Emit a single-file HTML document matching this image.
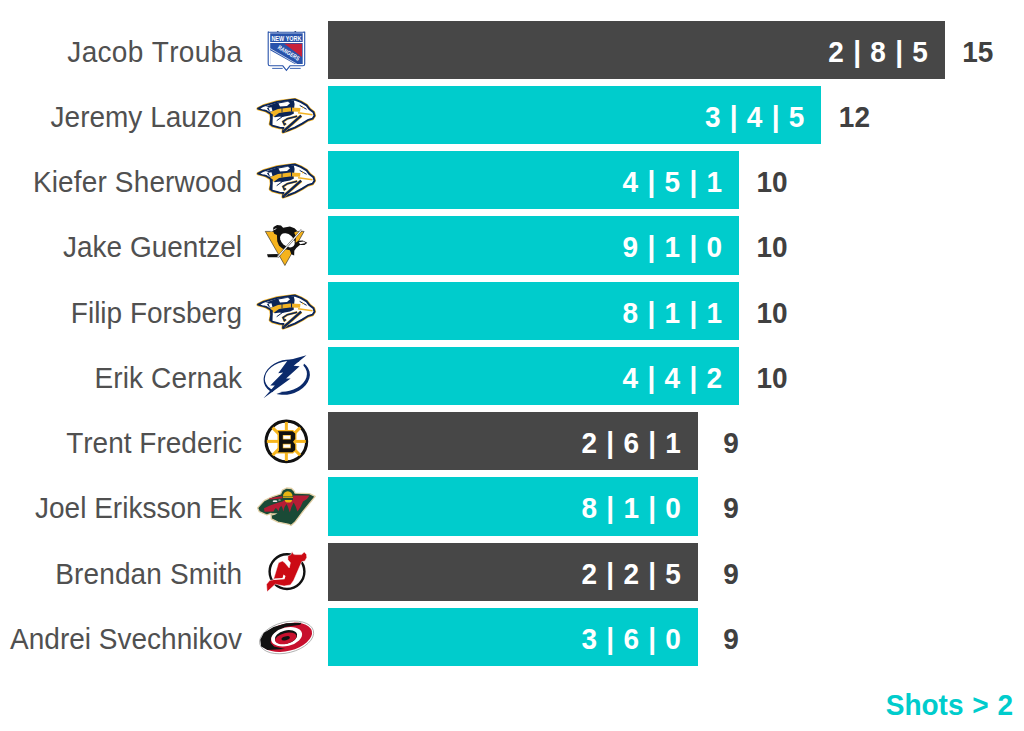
<!DOCTYPE html>
<html><head><meta charset="utf-8"><style>
html,body{margin:0;padding:0;background:#fff;width:1024px;height:731px;overflow:hidden;position:relative}
body{font-family:"Liberation Sans",sans-serif;font-kerning:none}
.row{position:absolute;left:0;width:1024px;height:58.25px}
.name{position:absolute;right:782px;top:0;height:58.25px;line-height:58.25px;font-size:28px;color:#505050;white-space:nowrap;transform:translateY(2px) scaleY(1.06)}
.lg{position:absolute;overflow:visible}
.bar{position:absolute;left:327.6px;top:0;height:58.25px}
.bar.d{background:#474747}
.bar.t{background:#00cccc}
.lab{position:absolute;right:17px;word-spacing:1.5px;top:0;line-height:58.25px;font-size:28px;font-weight:bold;color:#fff;white-space:nowrap;transform:translateY(2px) scaleY(1.06)}
.val{position:absolute;top:0;width:60px;text-align:center;line-height:58.25px;font-size:28px;font-weight:bold;color:#404040;white-space:nowrap;transform:translateY(2px) scaleY(1.06)}
.foot{position:absolute;right:11px;top:688.5px;word-spacing:1px;transform:scaleY(1.06);font-size:28px;font-weight:bold;color:#00cccc;line-height:32px;white-space:nowrap}
</style></head><body>
<div class="row" style="top:20.50px"><div class="name" style="letter-spacing:0.31px;margin-right:-0.31px">Jacob Trouba</div><div class="bar d" style="width:617.25px"><span class="lab">2 | 8 | 5</span></div><div class="val" style="left:947.85px">15</div></div><div class="row" style="top:85.75px"><div class="name" style="letter-spacing:0px;margin-right:0px">Jeremy Lauzon</div><div class="bar t" style="width:493.80px"><span class="lab">3 | 4 | 5</span></div><div class="val" style="left:824.40px">12</div></div><div class="row" style="top:151.00px"><div class="name" style="letter-spacing:0.15px;margin-right:-0.15px">Kiefer Sherwood</div><div class="bar t" style="width:411.50px"><span class="lab">4 | 5 | 1</span></div><div class="val" style="left:742.10px">10</div></div><div class="row" style="top:216.25px"><div class="name" style="letter-spacing:0px;margin-right:0px">Jake Guentzel</div><div class="bar t" style="width:411.50px"><span class="lab">9 | 1 | 0</span></div><div class="val" style="left:742.10px">10</div></div><div class="row" style="top:281.50px"><div class="name" style="letter-spacing:0px;margin-right:0px">Filip Forsberg</div><div class="bar t" style="width:411.50px"><span class="lab">8 | 1 | 1</span></div><div class="val" style="left:742.10px">10</div></div><div class="row" style="top:346.75px"><div class="name" style="letter-spacing:0.12px;margin-right:-0.12px">Erik Cernak</div><div class="bar t" style="width:411.50px"><span class="lab">4 | 4 | 2</span></div><div class="val" style="left:742.10px">10</div></div><div class="row" style="top:412.00px"><div class="name" style="letter-spacing:0px;margin-right:0px">Trent Frederic</div><div class="bar d" style="width:370.35px"><span class="lab">2 | 6 | 1</span></div><div class="val" style="left:700.95px">9</div></div><div class="row" style="top:477.25px"><div class="name" style="letter-spacing:0px;margin-right:0px">Joel Eriksson Ek</div><div class="bar t" style="width:370.35px"><span class="lab">8 | 1 | 0</span></div><div class="val" style="left:700.95px">9</div></div><div class="row" style="top:542.50px"><div class="name" style="letter-spacing:0.125px;margin-right:-0.125px">Brendan Smith</div><div class="bar d" style="width:370.35px"><span class="lab">2 | 2 | 5</span></div><div class="val" style="left:700.95px">9</div></div><div class="row" style="top:607.75px"><div class="name" style="letter-spacing:0px;margin-right:0px">Andrei Svechnikov</div><div class="bar t" style="width:370.35px"><span class="lab">3 | 6 | 0</span></div><div class="val" style="left:700.95px">9</div></div>
<svg class="lg" style="left:260px;top:26px" width="54" height="48" viewBox="0 0 54 48">
<path d="M8.2,6.2 H44.7 V38 Q44.7,39.8 43,39.8 H30 L26.4,44.3 L22.8,39.8 H10 Q8.2,39.8 8.2,38 Z" fill="#fff" stroke="#2853ab" stroke-width="1.1"/>
<rect x="10.2" y="7.3" width="32.5" height="8.7" fill="#2853ab"/>
<text x="26.4" y="14.8" font-family="Liberation Sans" font-weight="bold" font-size="7.2" fill="#fff" text-anchor="middle" textLength="30" lengthAdjust="spacingAndGlyphs">NEW YORK</text>
<path d="M10.2,17 H42.7 V38 H10.2 Z" fill="#2853ab"/>
<path d="M24.3,17.7 L42,17.7 L42,30.9 Z" fill="#c8213a"/>
<path d="M10.2,24.3 L10.2,38 L34.8,38 Z" fill="#fff"/>
<path d="M10.2,22.6 L37.6,38.5" stroke="#fff" stroke-width="0.7"/>
<text x="0" y="0" transform="translate(27.6,28.6) rotate(31)" font-family="Liberation Sans" font-weight="bold" font-size="6" fill="#fff" text-anchor="middle" textLength="24" lengthAdjust="spacingAndGlyphs">RANGERS</text>
<path d="M12.2,42.4 L22.7,42.4 M29.9,42.4 L40.7,42.4" stroke="#2853ab" stroke-width="0.9"/>
<path d="M8,5 l1,1.2 M44.5,5 l-1,1.2 M17,5 l0.8,1 l0.8,-1 M34.5,5 l0.8,1 l0.8,-1" stroke="#2853ab" stroke-width="0.5"/>
</svg>
<svg class="lg" style="left:254px;top:94px" width="66" height="46" viewBox="0 0 66 46">
<polygon points="4,14.6 9.4,11.9 23.2,7.9 36.5,6 40.8,5.5 46.7,7.9 52.6,11.4 55.6,15.3 59.5,18.3 60.5,21.7 58.5,24.7 53.6,26.2 48.2,29.6 40.8,33.6 33.4,36.5 29,38 29.6,34 25.6,33.6 18.3,31.6 16.3,30.1 17.3,24.7 16.8,19.8 11.9,16.8" fill="none" stroke="#f2b324" stroke-width="3.2" stroke-linejoin="round"/>
<polygon points="4,14.6 9.4,11.9 23.2,7.9 36.5,6 40.8,5.5 46.7,7.9 52.6,11.4 55.6,15.3 59.5,18.3 60.5,21.7 58.5,24.7 53.6,26.2 48.2,29.6 40.8,33.6 33.4,36.5 29,38 29.6,34 25.6,33.6 18.3,31.6 16.3,30.1 17.3,24.7 16.8,19.8 11.9,16.8" fill="#fff" stroke="#0b2456" stroke-width="1.9" stroke-linejoin="round"/>
<polygon points="12,12.6 23.2,8.4 39.8,6.6 40.6,9.9 39.6,18.8 35.9,20.3 27.6,22.2 20.7,23.2 18.3,20.3 14.3,16.3" fill="#0b2456"/>
<polygon points="6.5,14.6 13,12.6 15,13.2 9,15.6" fill="#fff"/>
<polygon points="24.5,9.6 34,7.8 36,9.2 33,12 26,12.6" fill="#fff"/>
<polygon points="14.6,13.8 17.5,13.2 18.6,17.6 16,17.4" fill="#fff"/>
<polygon points="16.5,18 24,15 36,13.4 46.5,14 46,17.8 36,17.5 25,19 19.8,22.8 17.5,21.8" fill="#f2b324"/>
<polyline points="28,14 28,18.5" stroke="#0b2456" stroke-width="0.9"/><polyline points="37.5,13.2 37.5,17.6" stroke="#0b2456" stroke-width="1.1"/>
<polygon points="26,19.3 39,17.8 40,19.5 36,21.5 28,23 25,22" fill="#0b2456"/>
<polygon points="16.5,19 18.8,20.5 18.5,30.5 16.5,30" fill="#0b2456"/>
<polyline points="44,18.8 58.5,20.8" stroke="#f2b324" stroke-width="1.6"/>
<polyline points="45.7,11.4 52.6,15.3" stroke="#0b2456" stroke-width="1"/>
<circle cx="48.7" cy="13.6" r="0.8" fill="#f2b324"/>
<polyline points="43.2,22.2 33.4,24.7 29,27.6 30.4,30.6 32,29.5" fill="none" stroke="#f2b324" stroke-width="2.3"/><polyline points="43.2,22.2 33.4,24.7 29,27.6 30.4,30.6 32,29.5" fill="none" stroke="#0b2456" stroke-width="1.5"/>
<polyline points="30.2,36.6 47.2,21.7" stroke="#f2b324" stroke-width="3.2"/><polyline points="30.2,36.6 47.2,21.7" stroke="#0b2456" stroke-width="2.2"/>
<polyline points="22.7,26.7 31.6,20.3" stroke="#0b2456" stroke-width="1"/>
</svg>
<svg class="lg" style="left:254px;top:159.25px" width="66" height="46" viewBox="0 0 66 46">
<polygon points="4,14.6 9.4,11.9 23.2,7.9 36.5,6 40.8,5.5 46.7,7.9 52.6,11.4 55.6,15.3 59.5,18.3 60.5,21.7 58.5,24.7 53.6,26.2 48.2,29.6 40.8,33.6 33.4,36.5 29,38 29.6,34 25.6,33.6 18.3,31.6 16.3,30.1 17.3,24.7 16.8,19.8 11.9,16.8" fill="none" stroke="#f2b324" stroke-width="3.2" stroke-linejoin="round"/>
<polygon points="4,14.6 9.4,11.9 23.2,7.9 36.5,6 40.8,5.5 46.7,7.9 52.6,11.4 55.6,15.3 59.5,18.3 60.5,21.7 58.5,24.7 53.6,26.2 48.2,29.6 40.8,33.6 33.4,36.5 29,38 29.6,34 25.6,33.6 18.3,31.6 16.3,30.1 17.3,24.7 16.8,19.8 11.9,16.8" fill="#fff" stroke="#0b2456" stroke-width="1.9" stroke-linejoin="round"/>
<polygon points="12,12.6 23.2,8.4 39.8,6.6 40.6,9.9 39.6,18.8 35.9,20.3 27.6,22.2 20.7,23.2 18.3,20.3 14.3,16.3" fill="#0b2456"/>
<polygon points="6.5,14.6 13,12.6 15,13.2 9,15.6" fill="#fff"/>
<polygon points="24.5,9.6 34,7.8 36,9.2 33,12 26,12.6" fill="#fff"/>
<polygon points="14.6,13.8 17.5,13.2 18.6,17.6 16,17.4" fill="#fff"/>
<polygon points="16.5,18 24,15 36,13.4 46.5,14 46,17.8 36,17.5 25,19 19.8,22.8 17.5,21.8" fill="#f2b324"/>
<polyline points="28,14 28,18.5" stroke="#0b2456" stroke-width="0.9"/><polyline points="37.5,13.2 37.5,17.6" stroke="#0b2456" stroke-width="1.1"/>
<polygon points="26,19.3 39,17.8 40,19.5 36,21.5 28,23 25,22" fill="#0b2456"/>
<polygon points="16.5,19 18.8,20.5 18.5,30.5 16.5,30" fill="#0b2456"/>
<polyline points="44,18.8 58.5,20.8" stroke="#f2b324" stroke-width="1.6"/>
<polyline points="45.7,11.4 52.6,15.3" stroke="#0b2456" stroke-width="1"/>
<circle cx="48.7" cy="13.6" r="0.8" fill="#f2b324"/>
<polyline points="43.2,22.2 33.4,24.7 29,27.6 30.4,30.6 32,29.5" fill="none" stroke="#f2b324" stroke-width="2.3"/><polyline points="43.2,22.2 33.4,24.7 29,27.6 30.4,30.6 32,29.5" fill="none" stroke="#0b2456" stroke-width="1.5"/>
<polyline points="30.2,36.6 47.2,21.7" stroke="#f2b324" stroke-width="3.2"/><polyline points="30.2,36.6 47.2,21.7" stroke="#0b2456" stroke-width="2.2"/>
<polyline points="22.7,26.7 31.6,20.3" stroke="#0b2456" stroke-width="1"/>
</svg>
<svg class="lg" style="left:260px;top:220px" width="56" height="52" viewBox="0 0 56 52">
<path d="M5.3,11.4 L44.1,11.4 L24.9,45.5 Z" fill="#f5b31d" stroke="#222" stroke-width="0.6"/>
<polygon points="12.81,10.32 13.52,7.12 17.08,5.12 21.00,5.55 23.13,7.69 29.89,6.55 34.52,8.19 37.01,10.68 34.16,12.67 35.94,16.37 35.59,22.78 38.43,20.64 42.70,20.50 47.33,22.63 44.48,25.05 39.86,25.05 36.30,27.90 34.31,30.75 34.16,35.59 31.32,34.31 29.89,30.25 22.78,28.83 19.07,25.77 17.22,21.35 16.94,15.09 14.23,13.67" fill="#111"/>
<ellipse cx="27.40" cy="20.28" rx="8.40" ry="5.84" transform="rotate(42 27.40 20.28)" fill="#fff"/>
<polygon points="38.79,22.21 43.56,21.49 45.69,22.92 40.21,24.20" fill="#fff"/>
<polygon points="6.98,34.31 17.79,34.02 17.79,37.30 7.97,37.15" fill="#111"/>
<path d="M17.79,37.01 L41.64,9.96" stroke="#333" stroke-width="1.9"/>
<path d="M17.79,37.01 L41.64,9.96" stroke="#fff" stroke-width="1.1"/>
<path d="M10.68,11.39 L16.37,8.54" stroke="#fff" stroke-width="0.8"/>
</svg>
<svg class="lg" style="left:254px;top:289.75px" width="66" height="46" viewBox="0 0 66 46">
<polygon points="4,14.6 9.4,11.9 23.2,7.9 36.5,6 40.8,5.5 46.7,7.9 52.6,11.4 55.6,15.3 59.5,18.3 60.5,21.7 58.5,24.7 53.6,26.2 48.2,29.6 40.8,33.6 33.4,36.5 29,38 29.6,34 25.6,33.6 18.3,31.6 16.3,30.1 17.3,24.7 16.8,19.8 11.9,16.8" fill="none" stroke="#f2b324" stroke-width="3.2" stroke-linejoin="round"/>
<polygon points="4,14.6 9.4,11.9 23.2,7.9 36.5,6 40.8,5.5 46.7,7.9 52.6,11.4 55.6,15.3 59.5,18.3 60.5,21.7 58.5,24.7 53.6,26.2 48.2,29.6 40.8,33.6 33.4,36.5 29,38 29.6,34 25.6,33.6 18.3,31.6 16.3,30.1 17.3,24.7 16.8,19.8 11.9,16.8" fill="#fff" stroke="#0b2456" stroke-width="1.9" stroke-linejoin="round"/>
<polygon points="12,12.6 23.2,8.4 39.8,6.6 40.6,9.9 39.6,18.8 35.9,20.3 27.6,22.2 20.7,23.2 18.3,20.3 14.3,16.3" fill="#0b2456"/>
<polygon points="6.5,14.6 13,12.6 15,13.2 9,15.6" fill="#fff"/>
<polygon points="24.5,9.6 34,7.8 36,9.2 33,12 26,12.6" fill="#fff"/>
<polygon points="14.6,13.8 17.5,13.2 18.6,17.6 16,17.4" fill="#fff"/>
<polygon points="16.5,18 24,15 36,13.4 46.5,14 46,17.8 36,17.5 25,19 19.8,22.8 17.5,21.8" fill="#f2b324"/>
<polyline points="28,14 28,18.5" stroke="#0b2456" stroke-width="0.9"/><polyline points="37.5,13.2 37.5,17.6" stroke="#0b2456" stroke-width="1.1"/>
<polygon points="26,19.3 39,17.8 40,19.5 36,21.5 28,23 25,22" fill="#0b2456"/>
<polygon points="16.5,19 18.8,20.5 18.5,30.5 16.5,30" fill="#0b2456"/>
<polyline points="44,18.8 58.5,20.8" stroke="#f2b324" stroke-width="1.6"/>
<polyline points="45.7,11.4 52.6,15.3" stroke="#0b2456" stroke-width="1"/>
<circle cx="48.7" cy="13.6" r="0.8" fill="#f2b324"/>
<polyline points="43.2,22.2 33.4,24.7 29,27.6 30.4,30.6 32,29.5" fill="none" stroke="#f2b324" stroke-width="2.3"/><polyline points="43.2,22.2 33.4,24.7 29,27.6 30.4,30.6 32,29.5" fill="none" stroke="#0b2456" stroke-width="1.5"/>
<polyline points="30.2,36.6 47.2,21.7" stroke="#f2b324" stroke-width="3.2"/><polyline points="30.2,36.6 47.2,21.7" stroke="#0b2456" stroke-width="2.2"/>
<polyline points="22.7,26.7 31.6,20.3" stroke="#0b2456" stroke-width="1"/>
</svg>
<svg class="lg" style="left:256px;top:350px" width="60" height="55" viewBox="0 0 60 55">
<ellipse cx="30.7" cy="27.1" rx="23.5" ry="17.3" transform="rotate(-14 30.7 27.1)" fill="#0b2a6b"/>
<ellipse cx="29.9" cy="26.4" rx="21.4" ry="14.9" transform="rotate(-14 29.9 26.4)" fill="#fff"/>
<path d="M34,17 L50,7 L46,20 Z" fill="#fff"/>
<path d="M12,47 L20,38 L26,42 Z" fill="#fff"/>
<polygon points="50.45,5.27 37.65,15.81 43.67,16.19 30.12,28.61 34.64,28.61 7.53,48.19 18.83,35.39 14.31,35.39 27.11,22.59 22.21,23.34 31.63,10.54" fill="#0b2a6b"/>
</svg>
<svg class="lg" style="left:258px;top:415px" width="58" height="55" viewBox="0 0 58 55">
<circle cx="28.35" cy="26.4" r="20.3" fill="#fff" stroke="#111" stroke-width="3.1"/>
<line x1="34.35" y1="26.40" x2="47.85" y2="26.40" stroke="#f7b61e" stroke-width="3"/><line x1="32.59" y1="30.64" x2="42.14" y2="40.19" stroke="#f7b61e" stroke-width="3"/><line x1="28.35" y1="32.40" x2="28.35" y2="45.90" stroke="#f7b61e" stroke-width="3"/><line x1="24.11" y1="30.64" x2="14.56" y2="40.19" stroke="#f7b61e" stroke-width="3"/><line x1="22.35" y1="26.40" x2="8.85" y2="26.40" stroke="#f7b61e" stroke-width="3"/><line x1="24.11" y1="22.16" x2="14.56" y2="12.61" stroke="#f7b61e" stroke-width="3"/><line x1="28.35" y1="20.40" x2="28.35" y2="6.90" stroke="#f7b61e" stroke-width="3"/><line x1="32.59" y1="22.16" x2="42.14" y2="12.61" stroke="#f7b61e" stroke-width="3"/>
<path d="M18,15 L35,15 L38.5,18 L38.5,24.5 L36.5,26.7 L38.5,29 L38.5,35.5 L35,38.5 L18,38.5 L19.5,36.5 L19.5,17 Z" fill="#f7b61e"/>
<path d="M19.8,16.3 L34.5,16.3 L37.2,18.6 L37.2,24 L35,26.7 L37.2,29.4 L37.2,35 L34.5,37.2 L19.8,37.2 L21,35.5 L21,18 Z" fill="#111"/>
<rect x="24.8" y="20" width="8" height="4.5" fill="#f7b61e"/>
<rect x="25.4" y="20.7" width="6.8" height="3.1" fill="#fff"/>
<rect x="24.8" y="28.8" width="8" height="4.5" fill="#f7b61e"/>
<rect x="25.4" y="29.5" width="6.8" height="3.1" fill="#fff"/>
</svg>
<svg class="lg" style="left:254px;top:482px" width="66" height="48" viewBox="0 0 66 48">
<polygon points="3.6,25.9 10.2,18.6 18.4,14.7 26.6,12 28.3,8.2 32.6,6 37.6,6.5 40.3,9.3 41,11.1 55.5,11.6 61.2,14.4 49,29.4 40.8,40.3 37,43.5 34.8,42.3 23.9,40.1 17.3,36.8 17,31.4 12.9,33 5.3,29.7" fill="#1a4a36" stroke="#e3d0a6" stroke-width="1.3" stroke-linejoin="round"/>
<polygon points="10,26.2 16,23.5 23,21 28.5,19.5 30.5,17.9 39,17.9 39.1,13.6 55.5,13.6 53,17 49,19.5 46.5,25 43.5,29.4 41.5,24 39.7,20.6 37.5,25 35.8,30.5 34,25 32.6,22 30.5,25 29.3,29.4 28.5,26 27.2,23.7 25.5,26 24.5,29.2 23,27 21.7,25.9 20.5,27.5 19.5,29.5 10.5,29.8" fill="#b51d35"/>
<polygon points="15,16.5 22,15 28.3,14.2 28.5,16.2 22,17 15.5,17.6" fill="#b51d35"/>
<path d="M28.9,14.6 A4.85,5.3 0 0 1 38.6,14.6 Z" fill="#e9b412"/>
<rect x="29" y="15.2" width="10" height="0.8" fill="#e9b412"/>
<path d="M30.9,17.9 L38,17.9 A3.55,2.7 0 0 1 30.9,17.9 Z" fill="#e9b412"/>
<ellipse cx="21" cy="19.2" rx="2.4" ry="0.9" fill="#e8e8e8"/>
<ellipse cx="25.5" cy="18" rx="1.3" ry="0.6" fill="#ccc"/>
<polygon points="16.8,31.2 23.5,31.2 21,32.8 18,33.6" fill="#e3d0a6"/>
</svg>
<svg class="lg" style="left:258px;top:545px" width="58" height="55" viewBox="0 0 58 55">
<circle cx="29" cy="26.6" r="17.4" fill="#fff" stroke="#111" stroke-width="2.4"/>
<polygon points="9.1,46.8 8.5,39.2 11.7,35.5 15.4,34.8 20.5,17.8 24.3,16 26.8,17.8 31.2,22.9 32.4,17.8 29.9,14.7 29.9,10.9 33,9.5 34,6.5 35.8,9.6 43.6,9.6 46.3,7 48.5,9.5 48.8,12.5 46.9,16 43.8,16.6 35.6,35.5 32.4,39.9 26.1,41.1 20.5,39.9 17.3,39.2" fill="#cc0a14" stroke="#fff" stroke-width="0.5" stroke-linejoin="round"/>
<polygon points="15.8,35 26.5,34.3 27.5,31 25.5,29.5 24.5,33 16.5,33.5" fill="#fff"/>
</svg>
<svg class="lg" style="left:254px;top:612px" width="66" height="52" viewBox="0 0 66 52">
<ellipse cx="32.6" cy="25.4" rx="27.6" ry="15.4" transform="rotate(-14 32.6 25.4)" fill="#fff" stroke="#999" stroke-width="0.7"/>
<ellipse cx="32.8" cy="25.3" rx="25.8" ry="13.7" transform="rotate(-14 32.8 25.3)" fill="#c8102e"/>
<polygon points="47.40,10.84 32.27,11.15 19.55,15.08 9.87,20.83 6.24,27.79 7.15,34.45 13.50,38.08 31.06,36.99 20.16,34.45 16.65,30.70 17.25,25.25 22.10,19.80 31.18,15.08 46.19,12.78" fill="#111"/>
<ellipse cx="32.6" cy="24.8" rx="15.8" ry="9.2" transform="rotate(-14 32.6 24.8)" fill="#fff"/>
<ellipse cx="32" cy="25.05" rx="11.4" ry="6.6" transform="rotate(-14 32 25.05)" fill="#111"/>
<ellipse cx="31.8" cy="26.4" rx="11" ry="5.4" transform="rotate(-14 31.8 26.4)" fill="#c8102e"/>
<ellipse cx="31.65" cy="26.3" rx="4.3" ry="1.9" transform="rotate(-14 31.65 26.3)" fill="#111"/>
</svg>
<div class="foot">Shots &gt; 2</div>
</body></html>
